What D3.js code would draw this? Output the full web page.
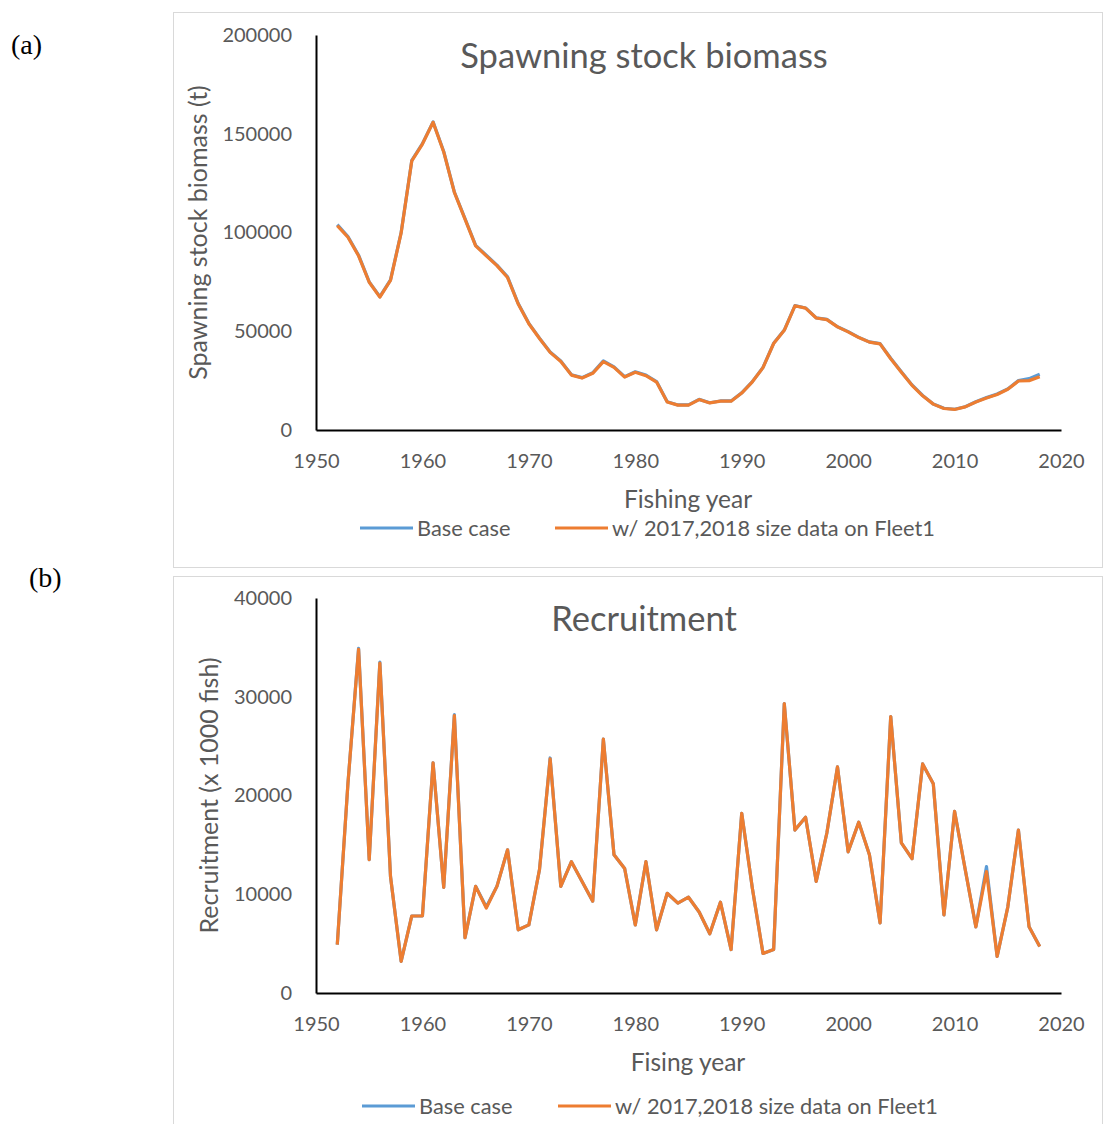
<!DOCTYPE html>
<html>
<head>
<meta charset="utf-8">
<script src="https://cdn.jsdelivr.net/npm/d3@7"></script>
<style>
  body { margin: 0; background: #fff; }
  svg text { font-family: Lato, "Open Sans", sans-serif; }
</style>
</head>
<body>
<div id="chart"></div>
<script>
/* global d3 */

// fishing years 1952..2018
var years = d3.range(1952, 2019);

var seriesNames = ["Base case", "w/ 2017,2018 size data on Fleet1"];

// spawning stock biomass (t)
var ssbBase = [104000, 98000, 88500, 75000, 67500, 76000, 100000, 136500, 145000, 156000,
  141000, 120500, 107000, 93500, 88500, 83500, 77500, 64000, 54000, 46500,
  39500, 35000, 28000, 26500, 29000, 35000, 32000, 27000, 29500, 27800,
  24500, 14300, 12700, 12700, 15500, 13800, 14700, 14700, 18800, 24500,
  31700, 43900, 50600, 63000, 61800, 56800, 56000, 52300, 49800, 46900,
  44600, 43700, 36300, 29500, 22800, 17500, 13200, 11000, 10500, 11800,
  14300, 16400, 18200, 20800, 25000, 26000, 28200];
var ssbFleet1 = [103500, 97600, 88200, 74800, 67300, 75800, 99800, 136300, 144800, 155800,
  140800, 120300, 106800, 93200, 88200, 83200, 77200, 63800, 53800, 46300,
  39300, 34700, 27800, 26300, 28700, 34600, 31700, 26800, 29200, 27500,
  24300, 14200, 12600, 12600, 15400, 13700, 14600, 14600, 18700, 24400,
  31600, 43800, 50500, 62900, 61700, 56700, 55900, 52200, 49700, 46800,
  44500, 43600, 36100, 29300, 22600, 17300, 13100, 10900, 10400, 11700,
  14200, 16200, 18000, 20600, 24800, 25000, 27000];

// recruitment (x 1000 fish)
var recBase = [4900, 21200, 34900, 13500, 33500, 11800, 3200, 7800, 7800, 23300,
  10700, 28200, 5600, 10800, 8700, 10800, 14500, 6400, 6900, 12500,
  23800, 10800, 13300, 11300, 9300, 25700, 14000, 12600, 6900, 13300,
  6400, 10100, 9100, 9700, 8200, 6000, 9200, 4400, 18200, 10600,
  4000, 4400, 29300, 16500, 17800, 11300, 16200, 22900, 14300, 17300,
  14000, 7100, 28000, 15200, 13600, 23200, 21200, 7900, 18400, 12500,
  6700, 12800, 3700, 8700, 16500, 6700, 4700];
var recFleet1 = [4900, 21200, 34800, 13500, 33400, 11800, 3200, 7800, 7800, 23300,
  10700, 28100, 5600, 10800, 8600, 10800, 14500, 6400, 6900, 12500,
  23700, 10800, 13300, 11300, 9300, 25700, 14000, 12600, 6900, 13300,
  6400, 10100, 9100, 9700, 8200, 6000, 9200, 4400, 18200, 10600,
  4000, 4400, 29300, 16500, 17800, 11300, 16200, 22900, 14300, 17300,
  14000, 7100, 28000, 15200, 13600, 23200, 21200, 7900, 18400, 12500,
  6700, 12300, 3700, 8700, 16500, 6700, 4700];

var xTicks = [1950, 1960, 1970, 1980, 1990, 2000, 2010, 2020];
var ssbTicks = [0, 50000, 100000, 150000, 200000];
var recTicks = [0, 10000, 20000, 30000, 40000];

var colors = ["#5B9BD5", "#ED7D31"];
var textColor = "#595959";

var svg = d3.select("#chart").append("svg")
  .attr("width", 1103)
  .attr("height", 1124);

function drawPanel(cfg) {
  var g = svg.append("g");

  // the chart frame
  g.append("rect")
    .attr("x", cfg.frame[0] + 0.5).attr("y", cfg.frame[1] + 0.5)
    .attr("width", cfg.frame[2]).attr("height", cfg.frame[3])
    .style("fill", "none").style("stroke", "#d9d9d9").style("stroke-width", 1);

  // panel letter
  svg.append("text")
    .attr("x", cfg.letterPos[0]).attr("y", cfg.letterPos[1])
    .style("font-family", "'Liberation Serif', serif")
    .style("font-size", "28px")
    .style("fill", "#000")
    .text(cfg.letter);

  var x = d3.scaleLinear().domain([1950, 2020]).range([cfg.left, cfg.right]);
  var y = d3.scaleLinear().domain(cfg.yDomain).range([cfg.bottom, cfg.top]);

  var yAxis = d3.axisLeft(y).tickValues(cfg.yTicks).tickSize(0).tickPadding(24).tickFormat(d3.format("d"));
  var yg = g.append("g").attr("transform", "translate(" + cfg.left + ",0)").call(yAxis);
  yg.select(".domain").style("stroke", "#000").style("stroke-width", 2);
  yg.selectAll("text").style("font-size", "20px").style("fill", textColor);

  var xAxis = d3.axisBottom(x).tickValues(xTicks).tickSize(0).tickPadding(24).tickFormat(d3.format("d"));
  var xg = g.append("g").attr("transform", "translate(0," + cfg.bottom + ")").call(xAxis);
  xg.select(".domain").style("stroke", "#000").style("stroke-width", 2);
  xg.selectAll("text").style("font-size", "20px").style("fill", textColor);

  // chart title
  g.append("text")
    .attr("x", 644).attr("y", cfg.top + 33)
    .attr("text-anchor", "middle")
    .style("font-size", "34.5px").style("fill", textColor)
    .text(cfg.title);

  // axis titles
  g.append("text")
    .attr("x", 688).attr("y", cfg.bottom + 78)
    .attr("text-anchor", "middle")
    .style("font-size", "24.5px").style("fill", textColor)
    .text(cfg.xTitle);

  g.append("text")
    .attr("transform", "translate(" + cfg.yTitleX + "," + ((cfg.top + cfg.bottom) / 2) + ") rotate(-90)")
    .attr("text-anchor", "middle")
    .style("font-size", "25px").style("fill", textColor)
    .text(cfg.yTitle);

  var line = d3.line()
    .x(function(d, i) { return x(years[i]); })
    .y(function(d) { return y(d); });

  g.selectAll(".series")
    .data(cfg.series)
    .enter().append("path")
    .attr("class", "series")
    .attr("d", function(d) { return line(d); })
    .style("fill", "none")
    .style("stroke", function(d, i) { return colors[i]; })
    .style("stroke-width", 3.2)
    .style("stroke-linejoin", "round");

  // legend
  var leg = g.selectAll(".legend")
    .data(seriesNames)
    .enter().append("g")
    .attr("class", "legend")
    .attr("transform", function(d, i) { return "translate(" + cfg.legendX[i] + "," + cfg.legendY + ")"; });
  leg.append("line")
    .attr("x1", 0).attr("x2", 53)
    .style("stroke", function(d, i) { return colors[i]; })
    .style("stroke-width", 3.2);
  leg.append("text")
    .attr("x", 57).attr("dy", "0.35em")
    .style("font-size", "21.8px").style("fill", textColor)
    .text(function(d) { return d; });
}

drawPanel({
  frame: [173, 12, 929, 555],
  letter: "(a)", letterPos: [11, 54],
  left: 316, right: 1061, top: 35, bottom: 430,
  yDomain: [0, 200000], yTicks: ssbTicks,
  series: [ssbBase, ssbFleet1],
  title: "Spawning stock biomass",
  xTitle: "Fishing year",
  yTitle: "Spawning stock biomass (t)", yTitleX: 207,
  legendX: [360, 555], legendY: 528
});

drawPanel({
  frame: [173, 576, 929, 560],
  letter: "(b)", letterPos: [29, 587],
  left: 316, right: 1061, top: 598, bottom: 993,
  yDomain: [0, 40000], yTicks: recTicks,
  series: [recBase, recFleet1],
  title: "Recruitment",
  xTitle: "Fising year",
  yTitle: "Recruitment (x 1000 fish)", yTitleX: 218,
  legendX: [362, 558], legendY: 1106
});
</script>
</body>
</html>
